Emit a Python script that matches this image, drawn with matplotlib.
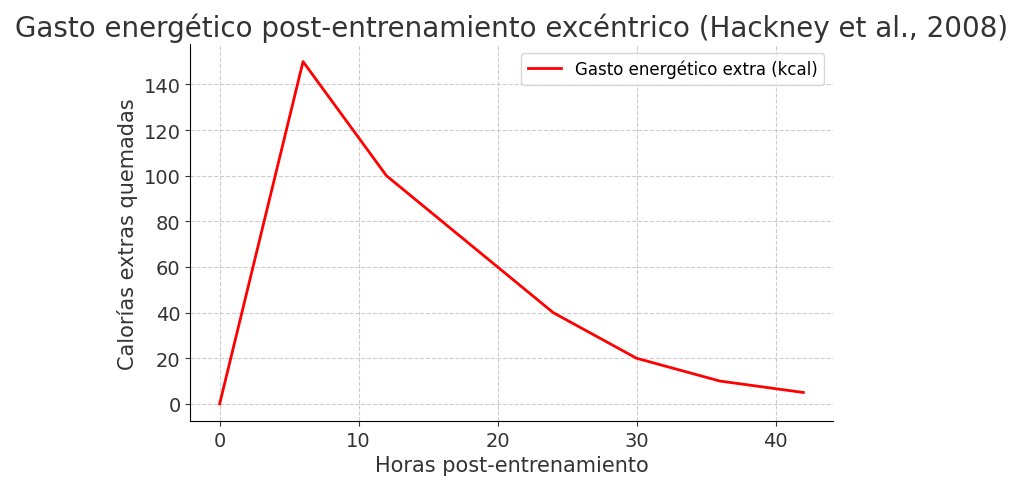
import matplotlib.pyplot as plt

hours = [0, 6, 12, 24, 30, 36, 42]
extra_kcal = [0, 150, 100, 40, 20, 10, 5]

fig = plt.figure(figsize=(10.24, 4.89), dpi=100)
ax = fig.add_axes([0.186, 0.137, 0.627, 0.77])
ax.plot(hours, extra_kcal, color='red', linewidth=2, label='Gasto energético extra (kcal)')
ax.set_title('Gasto energético post-entrenamiento excéntrico (Hackney et al., 2008)',
             fontsize=20, color='#333333')
ax.set_xlabel('Horas post-entrenamiento', fontsize=15, color='#333333')
ax.set_ylabel('Calorías extras quemadas', fontsize=15, color='#333333')
ax.tick_params(labelsize=14, colors='#333333')
ax.grid(True, linestyle='--', color='#cccccc', linewidth=0.8)
ax.spines['top'].set_visible(False)
ax.spines['right'].set_visible(False)
ax.set_xlim(-2.1, 44.1)
ax.set_ylim(-7.5, 157.5)
ax.legend(loc='upper right', fontsize=12)
fig.savefig('out.png', dpi=100)
